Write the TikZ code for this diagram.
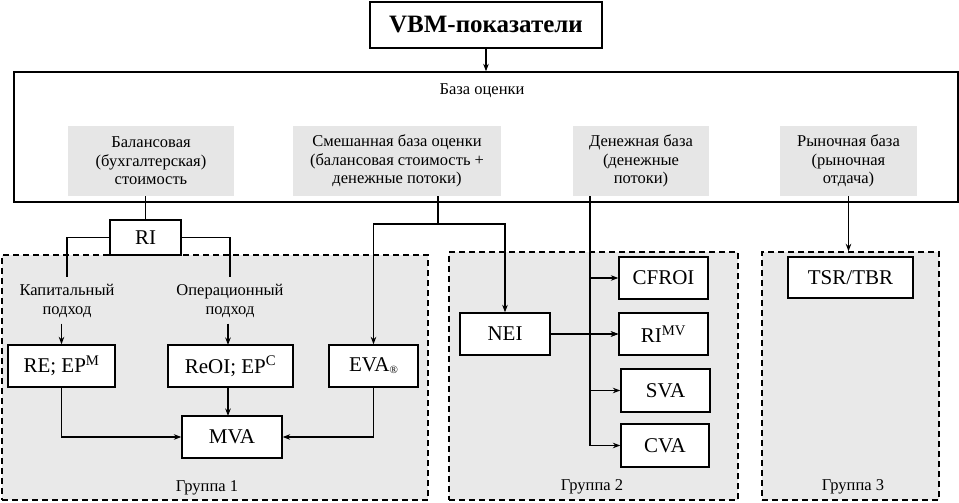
\documentclass[tikz,border=0pt]{standalone}
\usepackage{fontspec}
\setmainfont{Liberation Serif}
\usetikzlibrary{arrows.meta}
\definecolor{basegray}{HTML}{E6E6E6}
\definecolor{groupgray}{HTML}{E9E9E9}
\tikzset{
	box/.style={draw, line width=1.3pt, fill=white, inner sep=0pt, minimum height=42pt, font=\fontsize{21}{23}\selectfont},
	basebox/.style={fill=basegray, inner sep=0pt, minimum height=70pt, align=center, font=\fontsize{16.5}{18.5}\selectfont},
	groupbox/.style={draw, line width=1.4pt, dash pattern=on 6pt off 4pt, fill=groupgray, inner sep=0pt},
	lbl/.style={align=center, inner sep=0pt, font=\fontsize{16.5}{18.5}\selectfont},
	link/.style={line width=1.2pt},
	arr/.style={link, -{Stealth[length=7.5pt, width=5.5pt]}}
}
\begin{document}
\begin{tikzpicture}[x=1pt, y=-1pt]
		\useasboundingbox (0, 0) rectangle (959, 503);

		% Draw groups
		\node[groupbox, minimum width=426pt, minimum height=245pt] (grp1) at (215, 377.5) {};
		\node[groupbox, minimum width=289pt, minimum height=248pt] (grp2) at (593.5, 376) {};
		\node[groupbox, minimum width=177pt, minimum height=248pt] (grp3) at (850.5, 376) {};
		\node[lbl] (grp1lbl) at (207, 488) {Группа 1};
		\node[lbl] (grp2lbl) at (592, 487) {Группа 2};
		\node[lbl] (grp3lbl) at (853, 487) {Группа 3};

		% Draw title and base frame
		\node[box, line width=1.8pt, minimum width=232pt, minimum height=46pt, font=\fontsize{25}{27}\selectfont\bfseries] (title) at (486, 25) {VBM-показатели};
		\node[draw, line width=1.3pt, minimum width=944pt, minimum height=130pt, inner sep=0pt] (base) at (486, 137) {};
		\node[lbl] (baselbl) at (482, 91) {База оценки};
		\node[basebox, minimum width=166pt] (bal) at (151, 161) {Балансовая\\(бухгалтерская)\\стоимость};
		\node[basebox, minimum width=208pt] (mix) at (397, 161) {Смешанная база оценки\\(балансовая стоимость +\\денежные потоки)};
		\node[basebox, minimum width=136pt] (money) at (641, 161) {Денежная база\\(денежные\\потоки)};
		\node[basebox, minimum width=137pt] (market) at (848.5, 161) {Рыночная база\\(рыночная\\отдача)};
		\draw[arr] (title) -- (base);

		% First group
		\node[box, minimum width=71pt, minimum height=35pt] (ri) at (145.5, 237.5) {RI};
		\node[lbl] (cap) at (67, 301) {Капитальный\\подход};
		\node[lbl] (op) at (230, 301) {Операционный\\подход};
		\node[box, minimum width=107pt] (re) at (61.5, 366) {RE; EP\textsuperscript{M}};
		\node[box, minimum width=125pt] (reoi) at (230.5, 366) {ReOI; EP\textsuperscript{C}};
		\node[box, minimum width=89pt] (eva) at (373.5, 366) {EVA\raisebox{-2pt}{\fontsize{11}{11}\selectfont ®}};
		\node[box, minimum width=100pt] (mva) at (232, 437) {MVA};
		\draw[link] (bal.south -| ri.north) -- (ri.north);
		\draw[link, shorten >=7pt] (ri.west) -| (cap.north);
		\draw[link, shorten >=7pt] (ri.east) -| (op.north);
		\draw[arr, shorten <=6pt] (cap.south -| re.north) -- (re.north);
		\draw[arr, shorten <=6pt] (op.south -| 228, 0) -- (228, 345);
		\draw[arr] (re.south) |- (mva.west);
		\draw[arr] (reoi.south -| 228, 0) -- (228, 416);
		\draw[arr] (eva.south) |- (mva.east);

		% Second group
		\coordinate (mixdown) at (438, 224);
		\coordinate (bus) at (590, 220);
		\node[box, minimum width=90pt] (nei) at (505, 334) {NEI};
		\node[box, minimum width=89pt] (cfroi) at (663.5, 278) {CFROI};
		\node[box, minimum width=89pt] (rimv) at (663.5, 334) {RI\textsuperscript{MV}};
		\node[box, minimum width=89pt, minimum height=43pt] (sva) at (665.5, 390.5) {SVA};
		\node[box, minimum width=88pt, minimum height=43pt] (cva) at (665, 445.5) {CVA};
		\draw[link] (mix.south -| mixdown) -- (mixdown);
		\draw[arr] (mixdown) -| (eva.north);
		\draw[arr] (mixdown) -| (nei.north);
		\draw[link] (money.south -| bus) -- (bus |- cva.west);
		\foreach \n in {cfroi, rimv, sva, cva}
			\draw[arr] (bus |- \n.west) -- (\n.west);
		\draw[arr] (nei.east) -- (rimv.west);

		% Third group
		\node[box, minimum width=125pt, minimum height=41pt] (tsr) at (850.5, 277.5) {TSR/TBR};
		\draw[arr] (market.south) -- (market.south |- grp3.north);
\end{tikzpicture}
\end{document}
